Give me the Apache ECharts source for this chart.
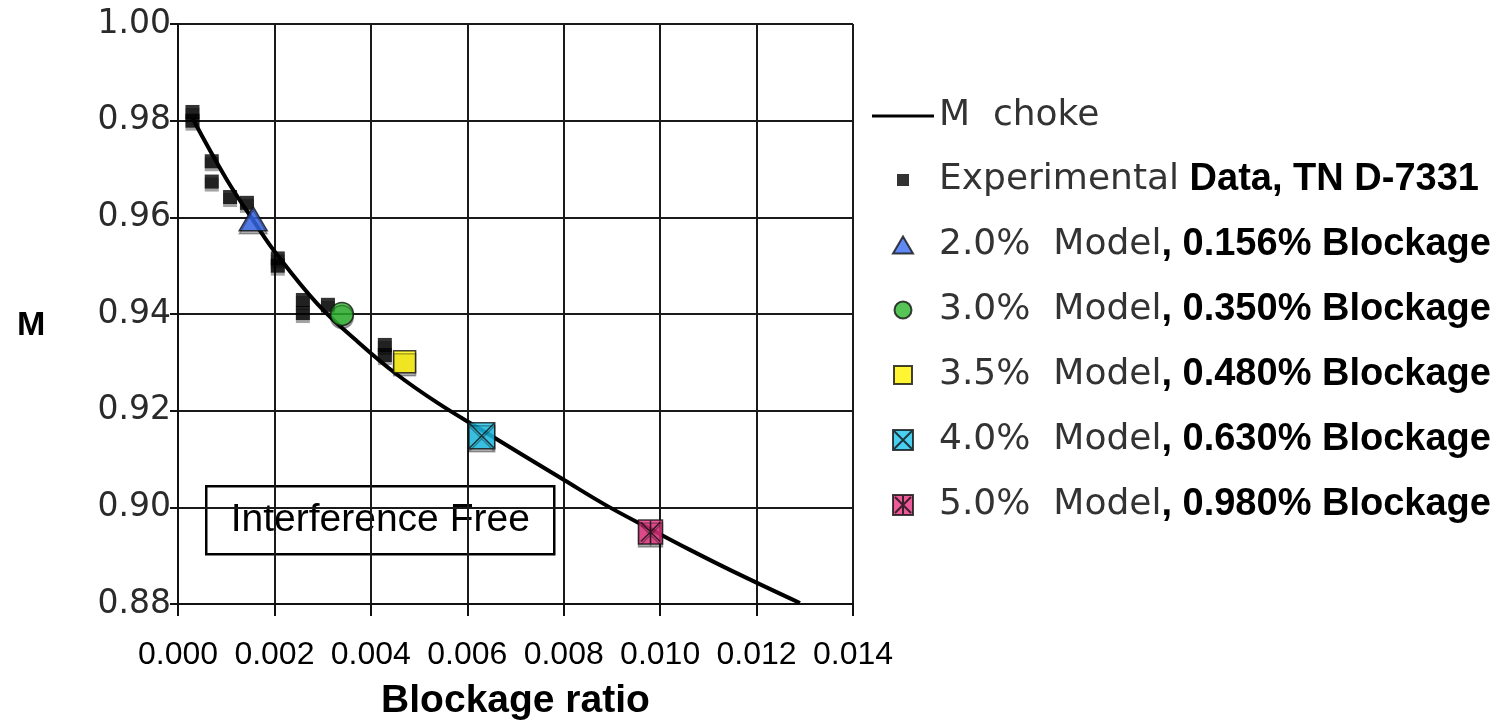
<!DOCTYPE html>
<html><head><meta charset="utf-8">
<script src="https://cdn.jsdelivr.net/npm/echarts@6/dist/echarts.min.js"></script>
<style>html,body{margin:0;padding:0;background:#fff}#c{width:1499px;height:720px}</style>
</head><body><div id="c"></div>
<script>
// M choke curve
const chokeX = [0.0003, 0.0010, 0.0016, 0.0020, 0.0029, 0.0037, 0.0045, 0.0054, 0.0063, 0.0080, 0.0089, 0.0098, 0.0106, 0.0115, 0.0129];
const chokeY = [0.9805, 0.9680, 0.9588, 0.9530, 0.9420, 0.9345, 0.9278, 0.9215, 0.9160, 0.9057, 0.9003, 0.8955, 0.8913, 0.8868, 0.8802];
// Experimental data, TN D-7331
const expX = [0.0003, 0.0003, 0.0007, 0.0007, 0.00108, 0.00143, 0.00207, 0.00207, 0.00259, 0.00259, 0.00311, 0.00429, 0.00429];
const expY = [0.9818, 0.9800, 0.9716, 0.9674, 0.9642, 0.9630, 0.9515, 0.9500, 0.9429, 0.9402, 0.9419, 0.9336, 0.9315];
// Model points
const modelX = [0.00156, 0.0034, 0.0047, 0.0063, 0.0098];
const modelY = [0.9597, 0.9400, 0.9301, 0.9148, 0.8949];
const modelGray = ['2.0%  Model', '3.0%  Model', '3.5%  Model', '4.0%  Model', '5.0%  Model'];
const modelBold = [', 0.156% Blockage', ', 0.350% Blockage', ', 0.480% Blockage', ', 0.630% Blockage', ', 0.980% Blockage'];
const modelColors = ['#3a6cf0', '#2db52d', '#fff200', '#1cc4ee', '#e8317f'];
const chokeName = 'M  choke';
const expGray = 'Experimental';
const expBold = ' Data, TN D-7331';
const xTicks = ['0.000','0.002','0.004','0.006','0.008','0.010','0.012','0.014'];
const yTicks = ['0.88','0.90','0.92','0.94','0.96','0.98','1.00'];
const xTitle = 'Blockage ratio';
const yTitle = 'M';
const noteText = 'Interference Free';

const symCross = 'path://M0,0L20,0L20,20L0,20Z M0,0L20,20 M20,0L0,20';
const symStar = 'path://M0,0L20,0L20,20L0,20Z M2,2L18,18 M18,2L2,18 M10,0L10,20';
const modelSymbols = ['triangle', 'circle', 'rect', symCross, symStar];
const modelSizes = [[28,24], 23, 22, 26, 24];
// legend icons framed in a fixed box so they keep their size and aspect
const chokeIcon = 'path://M0,0M62,20M0,8.5L62,8.5L62,11.5L0,11.5Z';
const expIcon = 'path://M0,0M20,20M4,4L16,4L16,16L4,16Z';
const legendIcons = [
  'path://M0,0M20,20M10,1.5L20,18.5L0,18.5Z',
  'path://M0,0M20,20M10,1.5A8.5,8.5 0 1,1 9.99,1.5Z',
  'path://M0,0M20,20M1,1L19,1L19,19L1,19Z',
  'path://M0,0M20,20M0,0L20,0L20,20L0,20Z M0,0L20,20 M20,0L0,20',
  'path://M0,0M20,20M0,0L20,0L20,20L0,20Z M2,2L18,18 M18,2L2,18 M10,0L10,20'
];

const legendMap = {};
legendMap[chokeName] = '{a|' + chokeName + '}';
const expName = expGray + expBold;
legendMap[expName] = '{a|' + expGray + '}{b|' + expBold + '}';
const series = [];
series.push({
  name: chokeName, type: 'line', data: chokeX.map((x,i)=>[x, chokeY[i]]),
  symbol: 'none', smooth: 0.4, lineStyle: {color: '#000', width: 4}, itemStyle: {color:'#000'}, z: 3
});
series.push({
  name: expName, type: 'scatter', data: expX.map((x,i)=>[x, expY[i]]),
  symbol: 'rect', symbolSize: 14,
  itemStyle: {color: '#000', shadowColor: 'rgba(0,0,0,0.45)', shadowOffsetY: 3, shadowOffsetX: 0, shadowBlur: 0}, z: 4
});
const legendData = [{name: chokeName, icon: chokeIcon, itemStyle: {color: '#000', borderWidth: 0}}, {name: expName, icon: expIcon}];
modelX.forEach((x,i)=>{
  const nm = modelGray[i] + modelBold[i];
  legendMap[nm] = '{a|' + modelGray[i] + '}{b|' + modelBold[i] + '}';
  legendData.push({name: nm, icon: legendIcons[i]});
  series.push({
    name: nm, type: 'scatter', data: [[x, modelY[i]]],
    symbol: modelSymbols[i], symbolSize: modelSizes[i],
    itemStyle: {color: modelColors[i], borderColor: '#111', borderWidth: 1.5,
      shadowColor: 'rgba(0,0,0,0.4)', shadowOffsetY: 3, shadowBlur: 0}, z: 5
  });
});

const chart = echarts.init(document.getElementById('c'), null, {renderer: 'canvas'});
chart.setOption({
  backgroundColor: '#fff',
  animation: false,
  grid: {left: 178, right: 646, top: 24, bottom: 116, containLabel: false, outerBoundsMode: 'none'},
  xAxis: {
    type: 'value', min: 0, max: 0.014, interval: 0.002,
    name: xTitle, nameLocation: 'middle', nameGap: 78,
    nameTextStyle: {fontFamily: 'Liberation Sans', fontWeight: 'bold', fontSize: 39, color: '#000'},
    axisLine: {lineStyle: {color: '#111', width: 2}},
    axisTick: {show: true, inside: false, length: 12, lineStyle: {color: '#111', width: 2}},
    axisLabel: {fontFamily: 'Liberation Sans', fontSize: 32, color: '#000', margin: 35,
      formatter: (v)=>{ const i = Math.round(v/0.002); return xTicks[i] ?? ''; }},
    splitLine: {show: true, lineStyle: {color: '#1a1a1a', width: 2}}
  },
  yAxis: {
    type: 'value', min: 0.88, max: 1.00, interval: 0.02,
    axisLine: {show: true, lineStyle: {color: '#111', width: 2}},
    axisTick: {show: true, inside: false, length: 8, lineStyle: {color: '#111', width: 2}},
    axisLabel: {fontFamily: 'DejaVu Sans', fontSize: 33, color: '#2a2a2a', margin: 7,
      formatter: (v)=>{ const i = Math.round((v-0.88)/0.02); return yTicks[i] ?? ''; }},
    splitLine: {show: true, lineStyle: {color: '#1a1a1a', width: 2}}
  },
  legend: {
    orient: 'vertical', left: 867, top: 93, selectedMode: false, padding: 5,
    itemWidth: 62, itemHeight: 20, itemGap: 27,
    data: legendData,
    formatter: (n)=>legendMap[n] || n,
    textStyle: {
      rich: {
        a: {fontFamily: 'DejaVu Sans', fontSize: 36, color: '#333', lineHeight: 40},
        b: {fontFamily: 'Liberation Sans', fontWeight: 'bold', fontSize: 38, color: '#000', lineHeight: 40}
      }
    }
  },
  graphic: [
    {type: 'text', left: 17, top: 309, z: 10,
      style: {text: yTitle, fontFamily: 'Liberation Sans', fontWeight: 'bold', fontSize: 34, fill: '#000'}},
    {
    type: 'group', left: 205, top: 485, z: 10,
    children: [
      {type: 'rect', shape: {x: 0, y: 0, width: 348, height: 68}, style: {fill: '#fff', stroke: '#000', lineWidth: 2.5}},
      {type: 'text', x: 174, y: 34, style: {text: noteText, fontFamily: 'Liberation Sans', fontSize: 39, fill: '#000', align: 'center', verticalAlign: 'middle'}}
    ]
  }],
  series: series
});
</script></body></html>
